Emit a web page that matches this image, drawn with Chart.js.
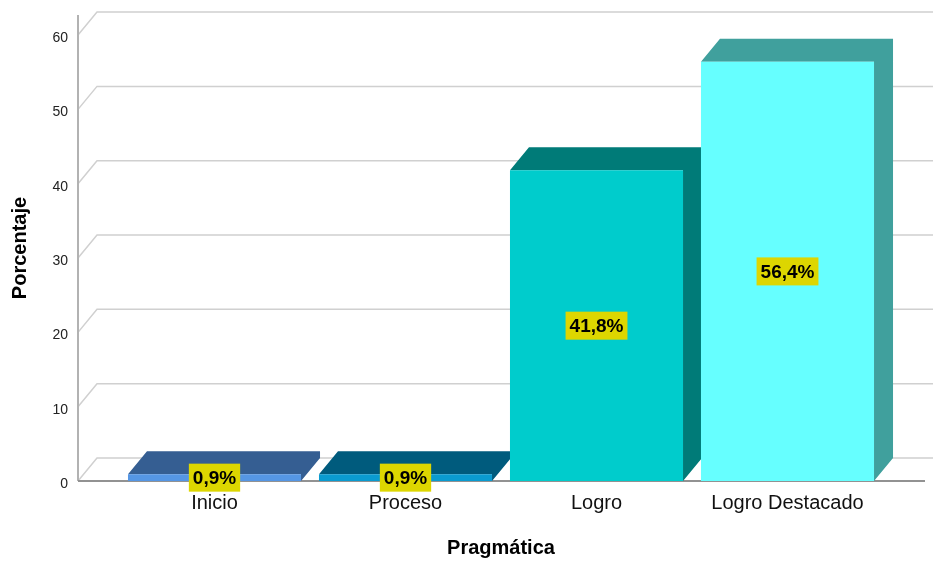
<!DOCTYPE html>
<html>
<head>
<meta charset="utf-8">
<script src="https://cdn.jsdelivr.net/npm/chart.js@4.4.1/dist/chart.umd.min.js"></script>
<style>
  html, body { margin: 0; padding: 0; background: #fff; }
  canvas { display: block; }
</style>
</head>
<body>
<canvas id="grafico" width="933" height="561"></canvas>
<script>
'use strict';
const categorias = ['Inicio', 'Proceso', 'Logro', 'Logro Destacado'];
const porcentajes = [0.9, 0.9, 41.8, 56.4];
const marcasEje = [0, 10, 20, 30, 40, 50, 60];

const coloresFrente = ['#5596e4', '#0a9bd0', '#00cccc', '#66ffff'];
const coloresSombra = ['#355e92', '#005b7d', '#007b78', '#40a09d'];

// profundidad del efecto 3D y posición del eje vertical
const PROF_X = 19;
const PROF_Y = -23;
const EJE_X = 78;
const FIN_BASE = 925;

Chart.defaults.font.family = '"Liberation Sans", Arial, sans-serif';

const efecto3d = {
  id: 'efecto3d',
  beforeDatasetsDraw(chart) {
    const { ctx, chartArea, scales: { y } } = chart;
    ctx.save();

    // cuadrícula en la pared lateral y la pared del fondo
    ctx.strokeStyle = '#d0d0d0';
    ctx.lineWidth = 1.5;
    marcasEje.forEach(v => {
      const py = y.getPixelForValue(v);
      ctx.beginPath();
      ctx.moveTo(EJE_X, py);
      ctx.lineTo(EJE_X + PROF_X, py + PROF_Y);
      ctx.lineTo(chart.width, py + PROF_Y);
      ctx.stroke();
    });

    // eje vertical
    ctx.strokeStyle = '#b2b2b2';
    ctx.lineWidth = 2;
    ctx.beginPath();
    ctx.moveTo(EJE_X, chartArea.top);
    ctx.lineTo(EJE_X, chartArea.bottom);
    ctx.stroke();

    // línea base
    ctx.strokeStyle = '#929292';
    ctx.beginPath();
    ctx.moveTo(EJE_X, chartArea.bottom);
    ctx.lineTo(FIN_BASE, chartArea.bottom);
    ctx.stroke();

    // caras superior y lateral de cada barra
    const meta = chart.getDatasetMeta(0);
    meta.data.forEach((bar, i) => {
      const { x, y: tope, base, width } = bar.getProps(['x', 'y', 'base', 'width'], true);
      const izq = x - width / 2;
      const der = x + width / 2;
      ctx.fillStyle = coloresSombra[i];
      ctx.beginPath();
      ctx.moveTo(izq, tope);
      ctx.lineTo(izq + PROF_X, tope + PROF_Y);
      ctx.lineTo(der + PROF_X, tope + PROF_Y);
      ctx.lineTo(der + PROF_X, base + PROF_Y);
      ctx.lineTo(der, base);
      ctx.lineTo(der, tope);
      ctx.closePath();
      ctx.fill();
    });
    ctx.restore();
  },
  afterDatasetsDraw(chart) {
    const { ctx } = chart;
    const meta = chart.getDatasetMeta(0);
    ctx.save();
    ctx.font = 'bold 19px "Liberation Sans", Arial, sans-serif';
    ctx.textAlign = 'center';
    ctx.textBaseline = 'middle';
    meta.data.forEach((bar, i) => {
      const { x, y: tope, base } = bar.getProps(['x', 'y', 'base'], true);
      const texto = porcentajes[i].toFixed(1).replace('.', ',') + '%';
      const ancho = ctx.measureText(texto).width + 8;
      const alto = 28;
      const cy = (tope + base) / 2;
      ctx.fillStyle = '#ddd600';
      ctx.fillRect(x - ancho / 2, cy - alto / 2, ancho, alto);
      ctx.fillStyle = '#000';
      ctx.fillText(texto, x, cy + 1);
    });
    ctx.restore();
  }
};

const ctx = document.getElementById('grafico').getContext('2d');
new Chart(ctx, {
  type: 'bar',
  data: {
    labels: categorias,
    datasets: [{
      data: porcentajes,
      backgroundColor: coloresFrente,
      barPercentage: 0.906,
      categoryPercentage: 1
    }]
  },
  options: {
    responsive: false,
    animation: false,
    layout: { padding: { top: 15, right: 50, left: 0, bottom: 0 } },
    plugins: {
      legend: { display: false },
      tooltip: { enabled: false }
    },
    scales: {
      x: {
        grid: { display: false, drawTicks: false },
        border: { display: false },
        ticks: { font: { size: 20 }, color: '#111', padding: 10 },
        title: {
          display: true,
          text: 'Pragmática',
          font: { size: 20, weight: 'bold' },
          color: '#000',
          padding: { top: 0, bottom: 1 }
        },
        afterFit(scale) { scale.height = 80; }
      },
      y: {
        min: 0,
        max: 62.7,
        grid: { display: false, drawTicks: false },
        border: { display: false },
        ticks: { font: { size: 14 }, color: '#222', padding: 51, labelOffset: 3 },
        afterBuildTicks(scale) { scale.ticks = marcasEje.map(v => ({ value: v })); },
        title: {
          display: true,
          text: 'Porcentaje',
          font: { size: 20, weight: 'bold' },
          color: '#000',
          padding: { top: 8, bottom: 0 }
        },
        afterFit(scale) {
          scale.width = 119;
          scale.paddingTop = 0;
          scale.paddingBottom = 0;
        }
      }
    }
  },
  plugins: [efecto3d]
});
</script>
</body>
</html>
